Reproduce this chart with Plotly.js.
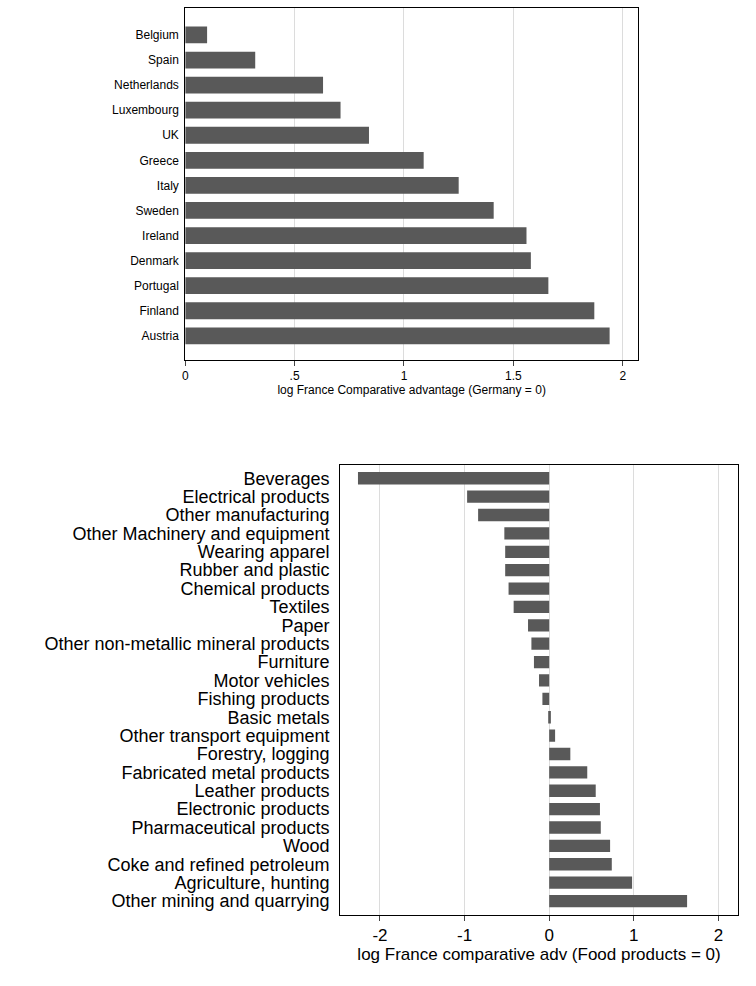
<!DOCTYPE html>
<html><head><script src="https://cdn.plot.ly/plotly-3.0.1.min.js"></script></head>
<body style="margin:0"><div id="c" style="width:756px;height:986px"></div>
<script>
const countries=["Belgium","Spain","Netherlands","Luxembourg","UK","Greece","Italy","Sweden","Ireland","Denmark","Portugal","Finland","Austria"];
const countryVals=[0.10,0.32,0.63,0.71,0.84,1.09,1.25,1.41,1.56,1.58,1.66,1.87,1.94];
const sectors=["Beverages","Electrical products","Other manufacturing","Other Machinery and equipment","Wearing apparel","Rubber and plastic","Chemical products","Textiles","Paper","Other non-metallic mineral products","Furniture","Motor vehicles","Fishing products","Basic metals","Other transport equipment","Forestry, logging","Fabricated metal products","Leather products","Electronic products","Pharmaceutical products","Wood","Coke and refined petroleum","Agriculture, hunting","Other mining and quarrying"];
const sectorVals=[-2.26,-0.97,-0.84,-0.53,-0.52,-0.52,-0.48,-0.42,-0.25,-0.21,-0.18,-0.12,-0.08,0.02,0.07,0.25,0.45,0.55,0.60,0.61,0.72,0.74,0.98,1.63];
const topTicks=[0,0.5,1,1.5,2], topTickText=["0",".5","1","1.5","2"];
const botTicks=[-2,-1,0,1,2], botTickText=["-2","-1","0","1","2"];
const col="#595959";
const ax={showline:true,mirror:true,linecolor:"#000",linewidth:1,zeroline:false};
Plotly.newPlot("c",[
 {type:"bar",orientation:"h",x:countryVals,y:countries,marker:{color:col},xaxis:"x",yaxis:"y"},
 {type:"bar",orientation:"h",x:sectorVals,y:sectors,marker:{color:col},xaxis:"x2",yaxis:"y2"}
],{
 width:756,height:986,margin:{l:0,r:0,t:0,b:0},showlegend:false,bargap:0.33,
 paper_bgcolor:"#fff",plot_bgcolor:"#fff",
 font:{family:"Liberation Sans, Arial",color:"#000"},
 xaxis:Object.assign({},ax,{domain:[0.245,0.844],anchor:"y",range:[0,2.07],tickvals:topTicks,ticktext:topTickText,ticks:"outside",ticklen:5,showgrid:true,gridcolor:"#dcdcdc",tickfont:{size:12},title:{text:"log France Comparative advantage (Germany = 0)",font:{size:12},standoff:0}}),
 yaxis:Object.assign({},ax,{domain:[0.635,0.992],anchor:"x",range:[12.96,-1.08],ticks:"",ticklabelstandoff:3,showgrid:false,tickfont:{size:12}}),
 xaxis2:Object.assign({},ax,{domain:[0.450,0.976],anchor:"y2",range:[-2.47,2.23],tickvals:botTicks,ticktext:botTickText,ticks:"outside",ticklen:5,showgrid:true,gridcolor:"#dcdcdc",tickfont:{size:17},title:{text:"log France comparative adv (Food products = 0)",font:{size:17},standoff:0}}),
 yaxis2:Object.assign({},ax,{domain:[0.072,0.528],anchor:"x2",range:[23.76,-0.7],dtick:1,ticks:"",ticklabelstandoff:6,showgrid:false,tickfont:{size:18}})
},{displayModeBar:false});
</script></body></html>
